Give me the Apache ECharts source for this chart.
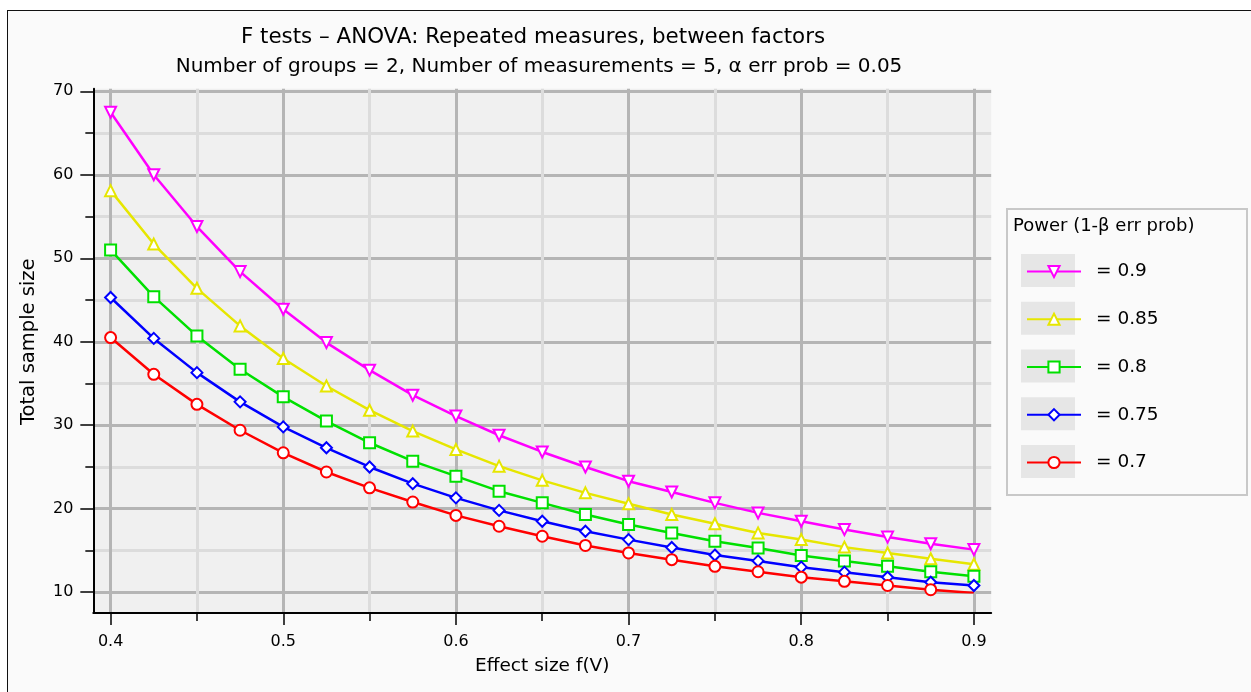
<!DOCTYPE html>
<html>
<head>
<meta charset="utf-8">
<script src="https://cdn.jsdelivr.net/npm/echarts@6/dist/echarts.min.js"></script>
<style>
  html, body { margin: 0; padding: 0; background: #ffffff; overflow: hidden; }
  #frame { position: absolute; left: 7px; top: 10px; width: 1244px; height: 682px;
           border-left: 1.5px solid #111; border-top: 1.5px solid #111; background: #fafafa; }
  #chart { position: absolute; left: 0; top: 0; width: 1251px; height: 692px; }
</style>
</head>
<body>
<div id="frame"></div>
<div id="chart"></div>
<script>
// ---- data ----
const effectSize = [0.4, 0.425, 0.45, 0.475, 0.5, 0.525, 0.55, 0.575, 0.6, 0.625, 0.65,
                    0.675, 0.7, 0.725, 0.75, 0.775, 0.8, 0.825, 0.85, 0.875, 0.9];
const powerLabels = ['0.9', '0.85', '0.8', '0.75', '0.7'];
const n090 = [67.5, 60.0, 53.8, 48.4, 43.9, 39.9, 36.6, 33.6, 31.1, 28.8, 26.8, 25.0, 23.3, 22.0, 20.7, 19.5, 18.5, 17.5, 16.6, 15.8, 15.1];
const n085 = [58.1, 51.7, 46.4, 41.9, 38.0, 34.7, 31.8, 29.3, 27.1, 25.1, 23.4, 21.9, 20.6, 19.3, 18.2, 17.1, 16.3, 15.4, 14.7, 14.0, 13.35];
const n080 = [51.0, 45.4, 40.7, 36.7, 33.4, 30.5, 27.9, 25.7, 23.9, 22.1, 20.7, 19.3, 18.1, 17.1, 16.1, 15.3, 14.4, 13.75, 13.1, 12.45, 11.9];
const n075 = [45.3, 40.4, 36.3, 32.8, 29.8, 27.3, 25.0, 23.0, 21.3, 19.8, 18.5, 17.3, 16.3, 15.35, 14.45, 13.75, 13.0, 12.4, 11.8, 11.2, 10.8];
const n070 = [40.5, 36.1, 32.5, 29.4, 26.7, 24.4, 22.5, 20.8, 19.2, 17.9, 16.7, 15.6, 14.7, 13.9, 13.1, 12.45, 11.8, 11.3, 10.8, 10.3, 9.9];
const seriesValues = [n090, n085, n080, n075, n070];

// ---- styles ----
const colors = ['#ff00ff', '#e6e600', '#00e000', '#0000ff', '#ff0000'];
const symbols = ['path://M0,0L10,0L5,9Z', 'triangle', 'rect', 'diamond', 'circle'];
const FONT = '"DejaVu Sans", "Noto Sans", sans-serif';
const MAJOR = '#b5b5b5', MINOR = '#dcdcdc', NONE = 'rgba(0,0,0,0)';

// ---- layout ----
const xLo = 0.4, xHi = 0.9, yLo = 10, yHi = 70;
const innerLeft = 110.6, innerRight = 973.9, innerTop = 91.3, innerBottom = 592.2;
const pxX = (innerRight - innerLeft) / (xHi - xLo);
const pxY = (innerBottom - innerTop) / (yHi - yLo);
const oxMin = 0.39, oxMax = 0.91, oyMin = 7.5, oyMax = 70.3;
const outerLeft = innerLeft - (xLo - oxMin) * pxX;
const outerWidth = (oxMax - oxMin) * pxX;
const outerTop = innerTop - (oyMax - yHi) * pxY;
const outerHeight = (oyMax - oyMin) * pxY;
const outerBottom = outerTop + outerHeight;

const legLeft = 1021, legTop = 254, legPitch = 47.75, legBoxH = 33, legIconH = 14;
const legItemH = 19;      // rendered height of one legend row (text-driven)
const legCenterOffset = 13.5;

const chart = echarts.init(document.getElementById('chart'), null, { renderer: 'canvas' });

const series = seriesValues.map((vals, i) => ({
  name: powerLabels[i],
  type: 'line',
  xAxisIndex: 1, yAxisIndex: 1,
  data: vals.map((v, j) => [effectSize[j], v]),
  symbol: symbols[i],
  symbolSize: 11,
  showSymbol: true,
  lineStyle: { color: colors[i], width: 2.5 },
  itemStyle: { color: '#ffffff', borderColor: colors[i], borderWidth: 2 },
  color: colors[i],
  z: 3
}));

const graphics = [
  { type: 'rect', shape: { x: 1007, y: 209, width: 240, height: 286 },
    style: { fill: '#fafafa', stroke: '#c8c8c8', lineWidth: 2 }, z: 1 }
];
powerLabels.forEach((p, i) => {
  graphics.push({ type: 'rect', shape: { x: legLeft, y: legTop + i * legPitch, width: 54, height: legBoxH },
    style: { fill: '#e6e6e6' }, z: 2 });
});

chart.setOption({
  animation: false,
  backgroundColor: 'transparent',
  title: [
    { text: 'F tests – ANOVA: Repeated measures, between factors', left: 528, top: 22, textAlign: 'center',
      textStyle: { fontFamily: FONT, fontSize: 21.4, fontWeight: 'normal', color: '#000' } },
    { text: 'Number of groups = 2, Number of measurements = 5, α err prob = 0.05', left: 534, top: 52, textAlign: 'center',
      textStyle: { fontFamily: FONT, fontSize: 20, fontWeight: 'normal', color: '#000' } },
    { text: 'Power (1-β err prob)', left: 1008, top: 212,
      textStyle: { fontFamily: FONT, fontSize: 18, fontWeight: 'normal', color: '#000' }, z: 5 }
  ],
  graphic: graphics,
  legend: {
    orient: 'vertical', left: legLeft, top: legTop + legBoxH / 2 - legCenterOffset,
    itemWidth: 54, itemHeight: legIconH, itemGap: legPitch - legItemH,
    selectedMode: false,
    formatter: name => '= ' + name,
    textStyle: { fontFamily: FONT, fontSize: 18.5, color: '#000', padding: [0, 0, 0, 10] },
    data: powerLabels,
    z: 6
  },
  grid: [
    { left: outerLeft, top: outerTop, width: outerWidth, height: outerHeight,
      show: true, backgroundColor: '#f0f0f0', borderWidth: 0 },
    { left: innerLeft, top: innerTop, width: innerRight - innerLeft, height: innerBottom - innerTop, show: false }
  ],
  xAxis: [
    { type: 'value', gridIndex: 0, min: oxMin, max: oxMax, interval: 0.01,
      axisLine: { show: true, onZero: false, lineStyle: { color: '#000', width: 2 } },
      axisTick: { show: false }, axisLabel: { show: false },
      splitLine: { show: true, lineStyle: { width: 3, color: [NONE, MAJOR, NONE, NONE, NONE, NONE, MINOR, NONE, NONE, NONE] } } },
    { type: 'value', gridIndex: 1, min: xLo, max: xHi, interval: 0.1,
      offset: outerBottom - innerBottom,
      axisLine: { show: false, onZero: false },
      axisTick: { show: true, length: 12, lineStyle: { color: '#000', width: 1.5 } },
      minorTick: { show: true, splitNumber: 2, length: 8, lineStyle: { color: '#000', width: 1.5 } },
      splitLine: { show: false },
      axisLabel: { margin: 21, fontFamily: FONT, fontSize: 16, color: '#000', formatter: v => v.toFixed(1) },
      name: 'Effect size f(V)', nameLocation: 'middle', nameGap: 44,
      nameTextStyle: { fontFamily: FONT, fontSize: 18.5, color: '#000' } }
  ],
  yAxis: [
    { type: 'value', gridIndex: 0, min: oyMin, max: oyMax, interval: 2.5,
      axisLine: { show: true, onZero: false, lineStyle: { color: '#000', width: 2 } },
      axisTick: { show: false }, axisLabel: { show: false },
      splitLine: { show: true, lineStyle: { width: 3, color: [NONE, MAJOR, NONE, MINOR] } } },
    { type: 'value', gridIndex: 1, min: yLo, max: yHi, interval: 10,
      offset: innerLeft - outerLeft,
      axisLine: { show: false, onZero: false },
      axisTick: { show: true, length: 13, lineStyle: { color: '#000', width: 1.5 } },
      minorTick: { show: true, splitNumber: 2, length: 8, lineStyle: { color: '#000', width: 1.5 } },
      splitLine: { show: false },
      axisLabel: { margin: 20, fontFamily: FONT, fontSize: 16, color: '#000' },
      name: 'Total sample size', nameLocation: 'middle', nameGap: 54,
      nameTextStyle: { fontFamily: FONT, fontSize: 19.5, color: '#000' } }
  ],
  series: series
});
</script>
</body>
</html>
